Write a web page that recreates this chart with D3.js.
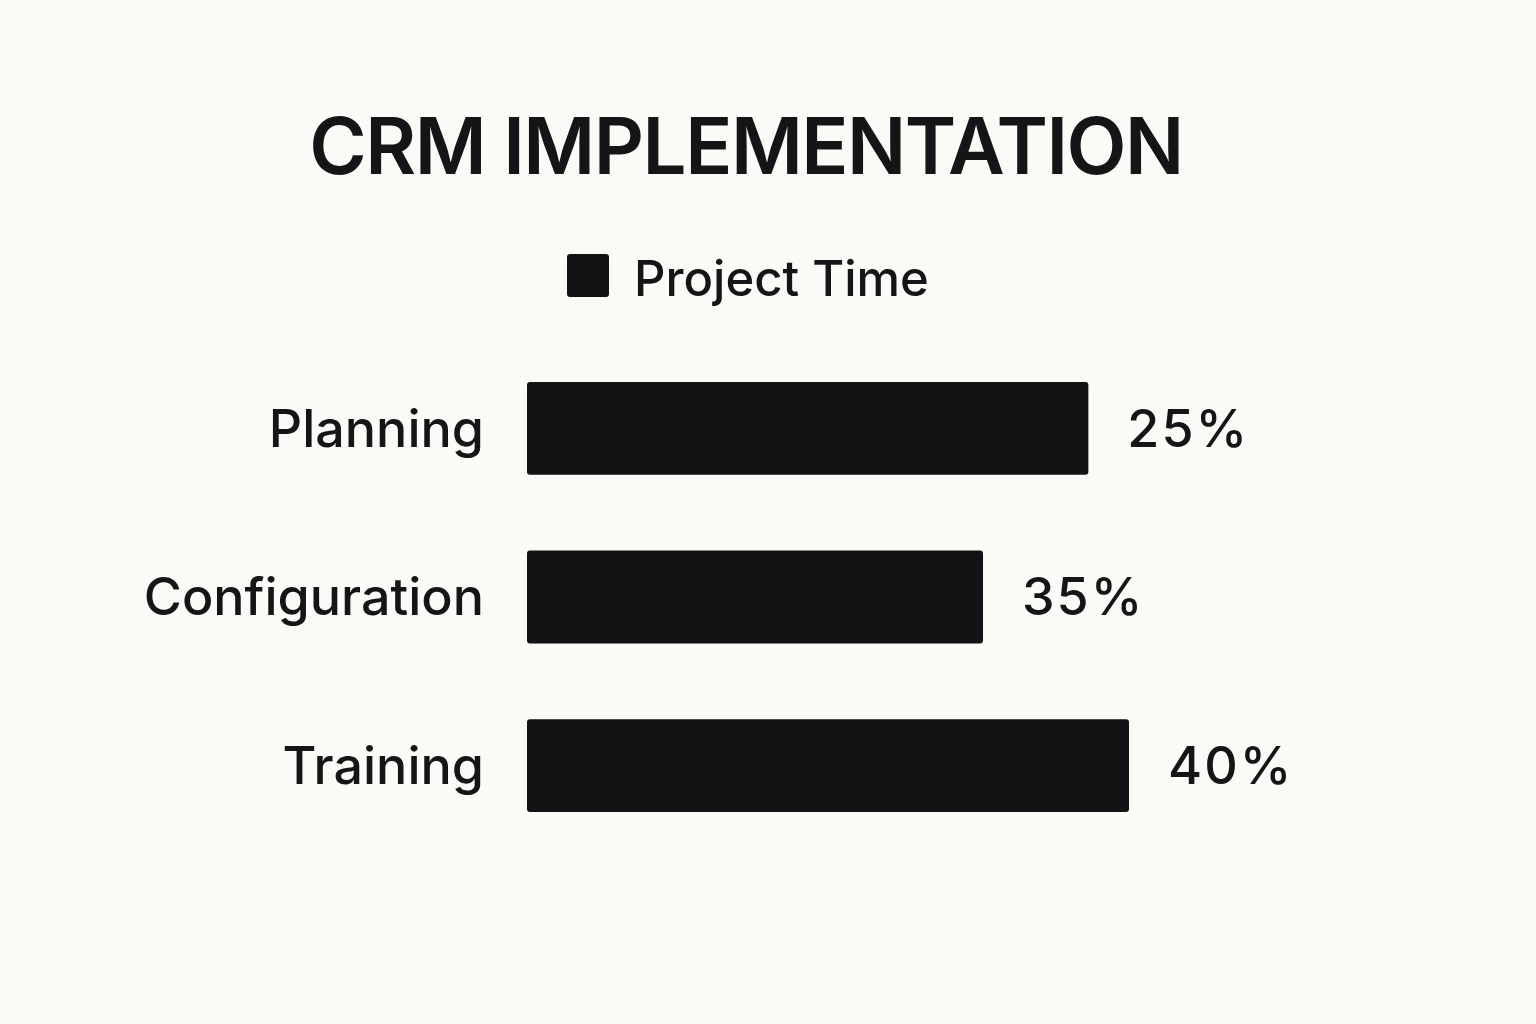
<!DOCTYPE html>
<html><head><meta charset="utf-8">
<script src="https://cdn.jsdelivr.net/npm/d3@7"></script>
<style>
html,body{margin:0;padding:0;background:#fbfaf6;}
svg{display:block;}
text{font-family:Inter,"Noto Sans",sans-serif;fill:#141517;}
</style></head>
<body>
<svg id="chart" width="1536" height="1024"></svg>
<script>
const categories = ["Planning", "Configuration", "Training"];
// Bar lengths as drawn in the picture (they do not match the printed labels)
const barValues = [37.3, 30.3, 40];
// Printed percentage labels
const labelValues = [25, 35, 40];
const seriesName = "Project Time";
const title = "CRM IMPLEMENTATION";

const svg = d3.select("#chart");
svg.append("rect").attr("width",1536).attr("height",1024).attr("fill","#fbfaf6");

const x = d3.scaleLinear().domain([0, 40]).range([527, 1129]);
const y = d3.scaleBand().domain(categories).range([344, 850]).paddingInner(0.45).paddingOuter(0.225);

svg.append("text").attr("x", 746).attr("y", 174).attr("text-anchor","middle")
  .attr("font-size", 78).attr("font-weight", 600).attr("letter-spacing", -1.5).text(title);

// legend
svg.append("rect").attr("x",567).attr("y",254).attr("width",42).attr("height",43).attr("rx",3).attr("fill","#111315");
svg.append("text").attr("x",634).attr("y",296).attr("font-size",49).attr("font-weight",500).text(seriesName);

const data = categories.map((c,i)=>({c, v:barValues[i], l:labelValues[i]}));

svg.selectAll("rect.bar").data(data).join("rect").attr("class","bar")
  .attr("x", x(0)).attr("y", d=>y(d.c)).attr("width", d=>x(d.v)-x(0)).attr("height", y.bandwidth())
  .attr("rx",3).attr("fill","#111315");

svg.selectAll("text.cat").data(data).join("text").attr("class","cat")
  .attr("x", 484).attr("y", d=>y(d.c)+y.bandwidth()/2).attr("dy","0.35em")
  .attr("text-anchor","end").attr("font-size",52).attr("font-weight",500).text(d=>d.c);

svg.selectAll("text.val").data(data).join("text").attr("class","val")
  .attr("x", d=>x(d.v)+39).attr("y", d=>y(d.c)+y.bandwidth()/2).attr("dy","0.35em")
  .attr("font-size",52).attr("font-weight",500).attr("letter-spacing",2).text(d=>d.l+"%");
</script>
</body></html>
